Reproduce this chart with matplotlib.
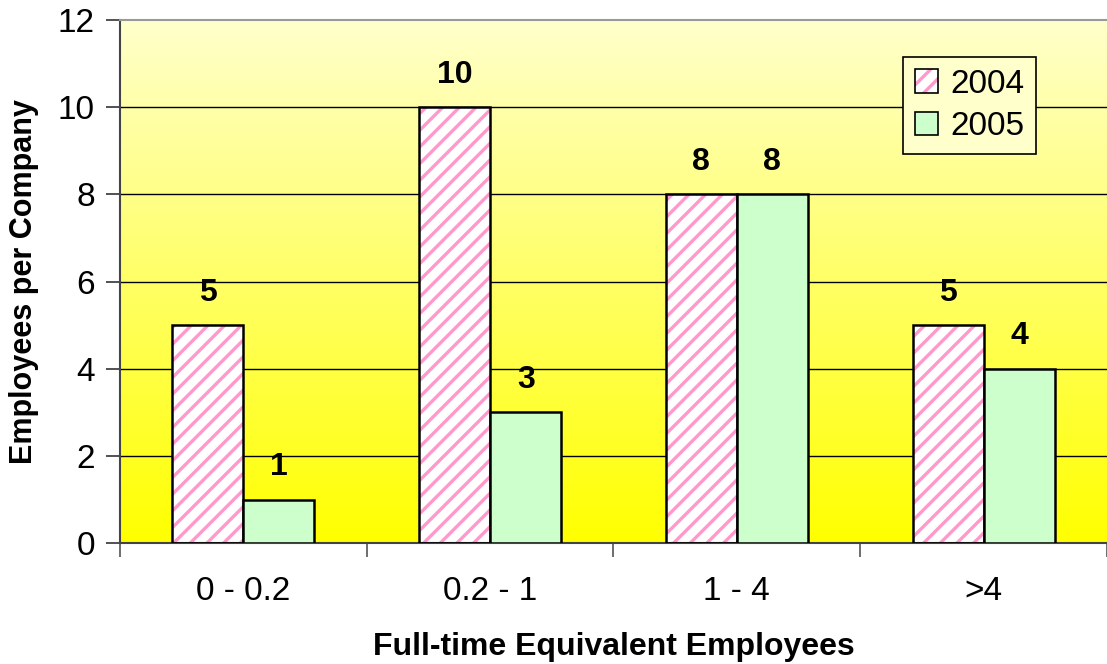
import numpy as np
import matplotlib
matplotlib.use("Agg")
import matplotlib.pyplot as plt
from matplotlib.colors import LinearSegmentedColormap
from matplotlib.patches import Patch

plt.rcParams["font.family"] = ["Liberation Sans", "DejaVu Sans"]
plt.rcParams["hatch.linewidth"] = 2.4

# ── Data ──────────────────────────────────────────────────────────────────────
categories = ["0 - 0.2", "0.2 - 1", "1 - 4", ">4"]
years = ["2004", "2005"]
values_2004 = [5, 10, 8, 5]
values_2005 = [1, 3, 8, 4]

PINK = "#FF99CC"
GREEN = "#CCFFCC"

# ── Figure ────────────────────────────────────────────────────────────────────
fig = plt.figure(figsize=(11.07, 6.64), dpi=100)
ax = fig.add_axes([0.1084, 0.182, 0.8916, 0.788])

x = np.arange(len(categories))
width = 0.288

# yellow gradient background, pale at the top
grad = np.linspace(0, 1, 256).reshape(-1, 1)
cmap = LinearSegmentedColormap.from_list("bg", ["#FFFF00", "#FFFFCC"])
ax.imshow(grad, cmap=cmap, origin="lower", aspect="auto",
          extent=(-0.5, len(categories) - 0.5, 0, 12), zorder=0)

for y in range(2, 12, 2):
    ax.axhline(y, color="black", linewidth=1.0, zorder=1)

# 2004: pink stripes on white, then outline on top
ax.bar(x - width / 2, values_2004, width, color="white", edgecolor=PINK,
       hatch="//", linewidth=0, zorder=2)
ax.bar(x - width / 2, values_2004, width, color="none", edgecolor="black",
       linewidth=1.8, zorder=3)
ax.bar(x + width / 2, values_2005, width, color=GREEN, edgecolor="black",
       linewidth=1.8, zorder=3)

for xi, v in zip(x - width / 2, values_2004):
    ax.text(xi, v + 0.74, str(v), ha="center", va="center",
            fontsize=23, fontweight="bold", zorder=4)
for xi, v in zip(x + width / 2, values_2005):
    ax.text(xi, v + 0.74, str(v), ha="center", va="center",
            fontsize=23, fontweight="bold", zorder=4)

ax.set_xlim(-0.5, len(categories) - 0.5)
ax.set_ylim(0, 12)
ax.set_yticks(range(0, 13, 2))
ax.set_xticks(x)
ax.set_xticklabels(categories)
ax.set_xticks(np.arange(-0.5, len(categories), 1), minor=True)
ax.tick_params(axis="x", which="major", length=0, pad=24, labelsize=24)
ax.tick_params(axis="x", which="minor", length=10, width=1.2, color="#555555",
               direction="out")
ax.tick_params(axis="y", length=10, width=1.2, color="#333333", labelsize=24,
               pad=8)

for side in ["left", "bottom"]:
    ax.spines[side].set_color("#444444")
    ax.spines[side].set_linewidth(1.5)
ax.spines["top"].set_color("#999999")
ax.spines["top"].set_linewidth(1.5)
ax.spines["right"].set_visible(False)

ax.set_xlabel("Full-time Equivalent Employees", fontsize=23, fontweight="bold",
              labelpad=18)
ax.set_ylabel("Employees per Company", fontsize=22, fontweight="bold",
              labelpad=14)

handles = [(Patch(facecolor="white", edgecolor=PINK, hatch="//", linewidth=0),
            Patch(facecolor="none", edgecolor="black", linewidth=1.2)),
           Patch(facecolor=GREEN, edgecolor="black", linewidth=1.2)]
leg = ax.legend(handles, years, loc="upper right", bbox_to_anchor=(0.928, 0.929),
                fontsize=24, frameon=True, fancybox=False, handlelength=0.7,
                handleheight=0.7, handletextpad=0.35, borderpad=0.35,
                labelspacing=0.35, borderaxespad=0)
leg.get_frame().set_facecolor("#FFFFCC")
leg.get_frame().set_edgecolor("black")
leg.get_frame().set_linewidth(1.2)
leg.get_frame().set_alpha(1)

fig.savefig("out.png", dpi=100)
